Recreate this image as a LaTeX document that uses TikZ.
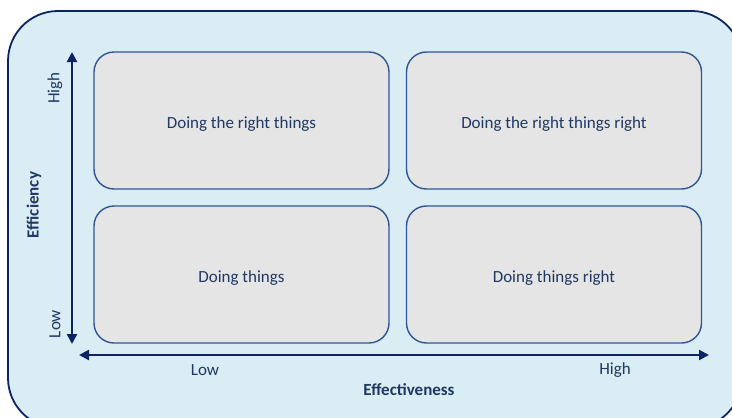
\documentclass[tikz,border=0pt]{standalone}
\usepackage{fontspec}
\setmainfont{Carlito}
\usetikzlibrary{arrows.meta}

\definecolor{navy}{HTML}{0B2463}
\definecolor{boxline}{HTML}{2F5597}
\definecolor{txtblue}{HTML}{1F3864}
\definecolor{panel}{HTML}{DAEDF4}
\definecolor{boxfill}{HTML}{E5E5E5}

\tikzset{
  quad/.style={draw=boxline, line width=1.4pt, fill=boxfill, rounded corners=20pt,
    minimum width=295pt, minimum height=137pt, inner sep=0pt,
    text height=16pt, text depth=0pt,
    text=txtblue, font=\fontsize{17}{19}\selectfont},
  axis/.style={draw=navy, line width=2.2pt, {Triangle[length=10pt,width=10pt]}-{Triangle[length=10pt,width=10pt]}},
  lbl/.style={text=txtblue, font=\fontsize{17}{19}\selectfont, inner sep=0pt},
  title/.style={lbl, font=\fontsize{17}{19}\selectfont\bfseries}
}

\begin{document}
\begin{tikzpicture}[x=1pt,y=-1pt]
\useasboundingbox (0,0) rectangle (732,418);
\clip (0,0) rectangle (732,418);
% background panel
\draw[draw=navy, line width=1.8pt, fill=panel, rounded corners=50pt] (8,11) rectangle (742,428);

% quadrants
\node[quad] (tl) at (241.5,120.5) {Doing the right things};
\node[quad] (tr) at (554,120.5) {Doing the right things right};
\node[quad] (bl) at (241.5,274.5) {Doing things};
\node[quad] (br) at (554,274.5) {Doing things right};

% axes
\coordinate (ybot) at (72,344);
\coordinate (ytop) at (72,52);
\coordinate (xleft) at (79,355);
\coordinate (xright) at (709,355);
\draw[axis] (ybot) -- (ytop);
\draw[axis] (xleft) -- (xright);

% axis labels
\node[lbl, rotate=90] (yhigh) at (55,88) {High};
\node[lbl, rotate=90] (ylow) at (55,324) {Low};
\node[title, rotate=90] (ytitle) at (34,205) {Efficiency};
\node[lbl] (xlow) at (205,370) {Low};
\node[lbl] (xhigh) at (615,370) {High};
\node[title] (xtitle) at (409,390) {Effectiveness};
\end{tikzpicture}
\end{document}
